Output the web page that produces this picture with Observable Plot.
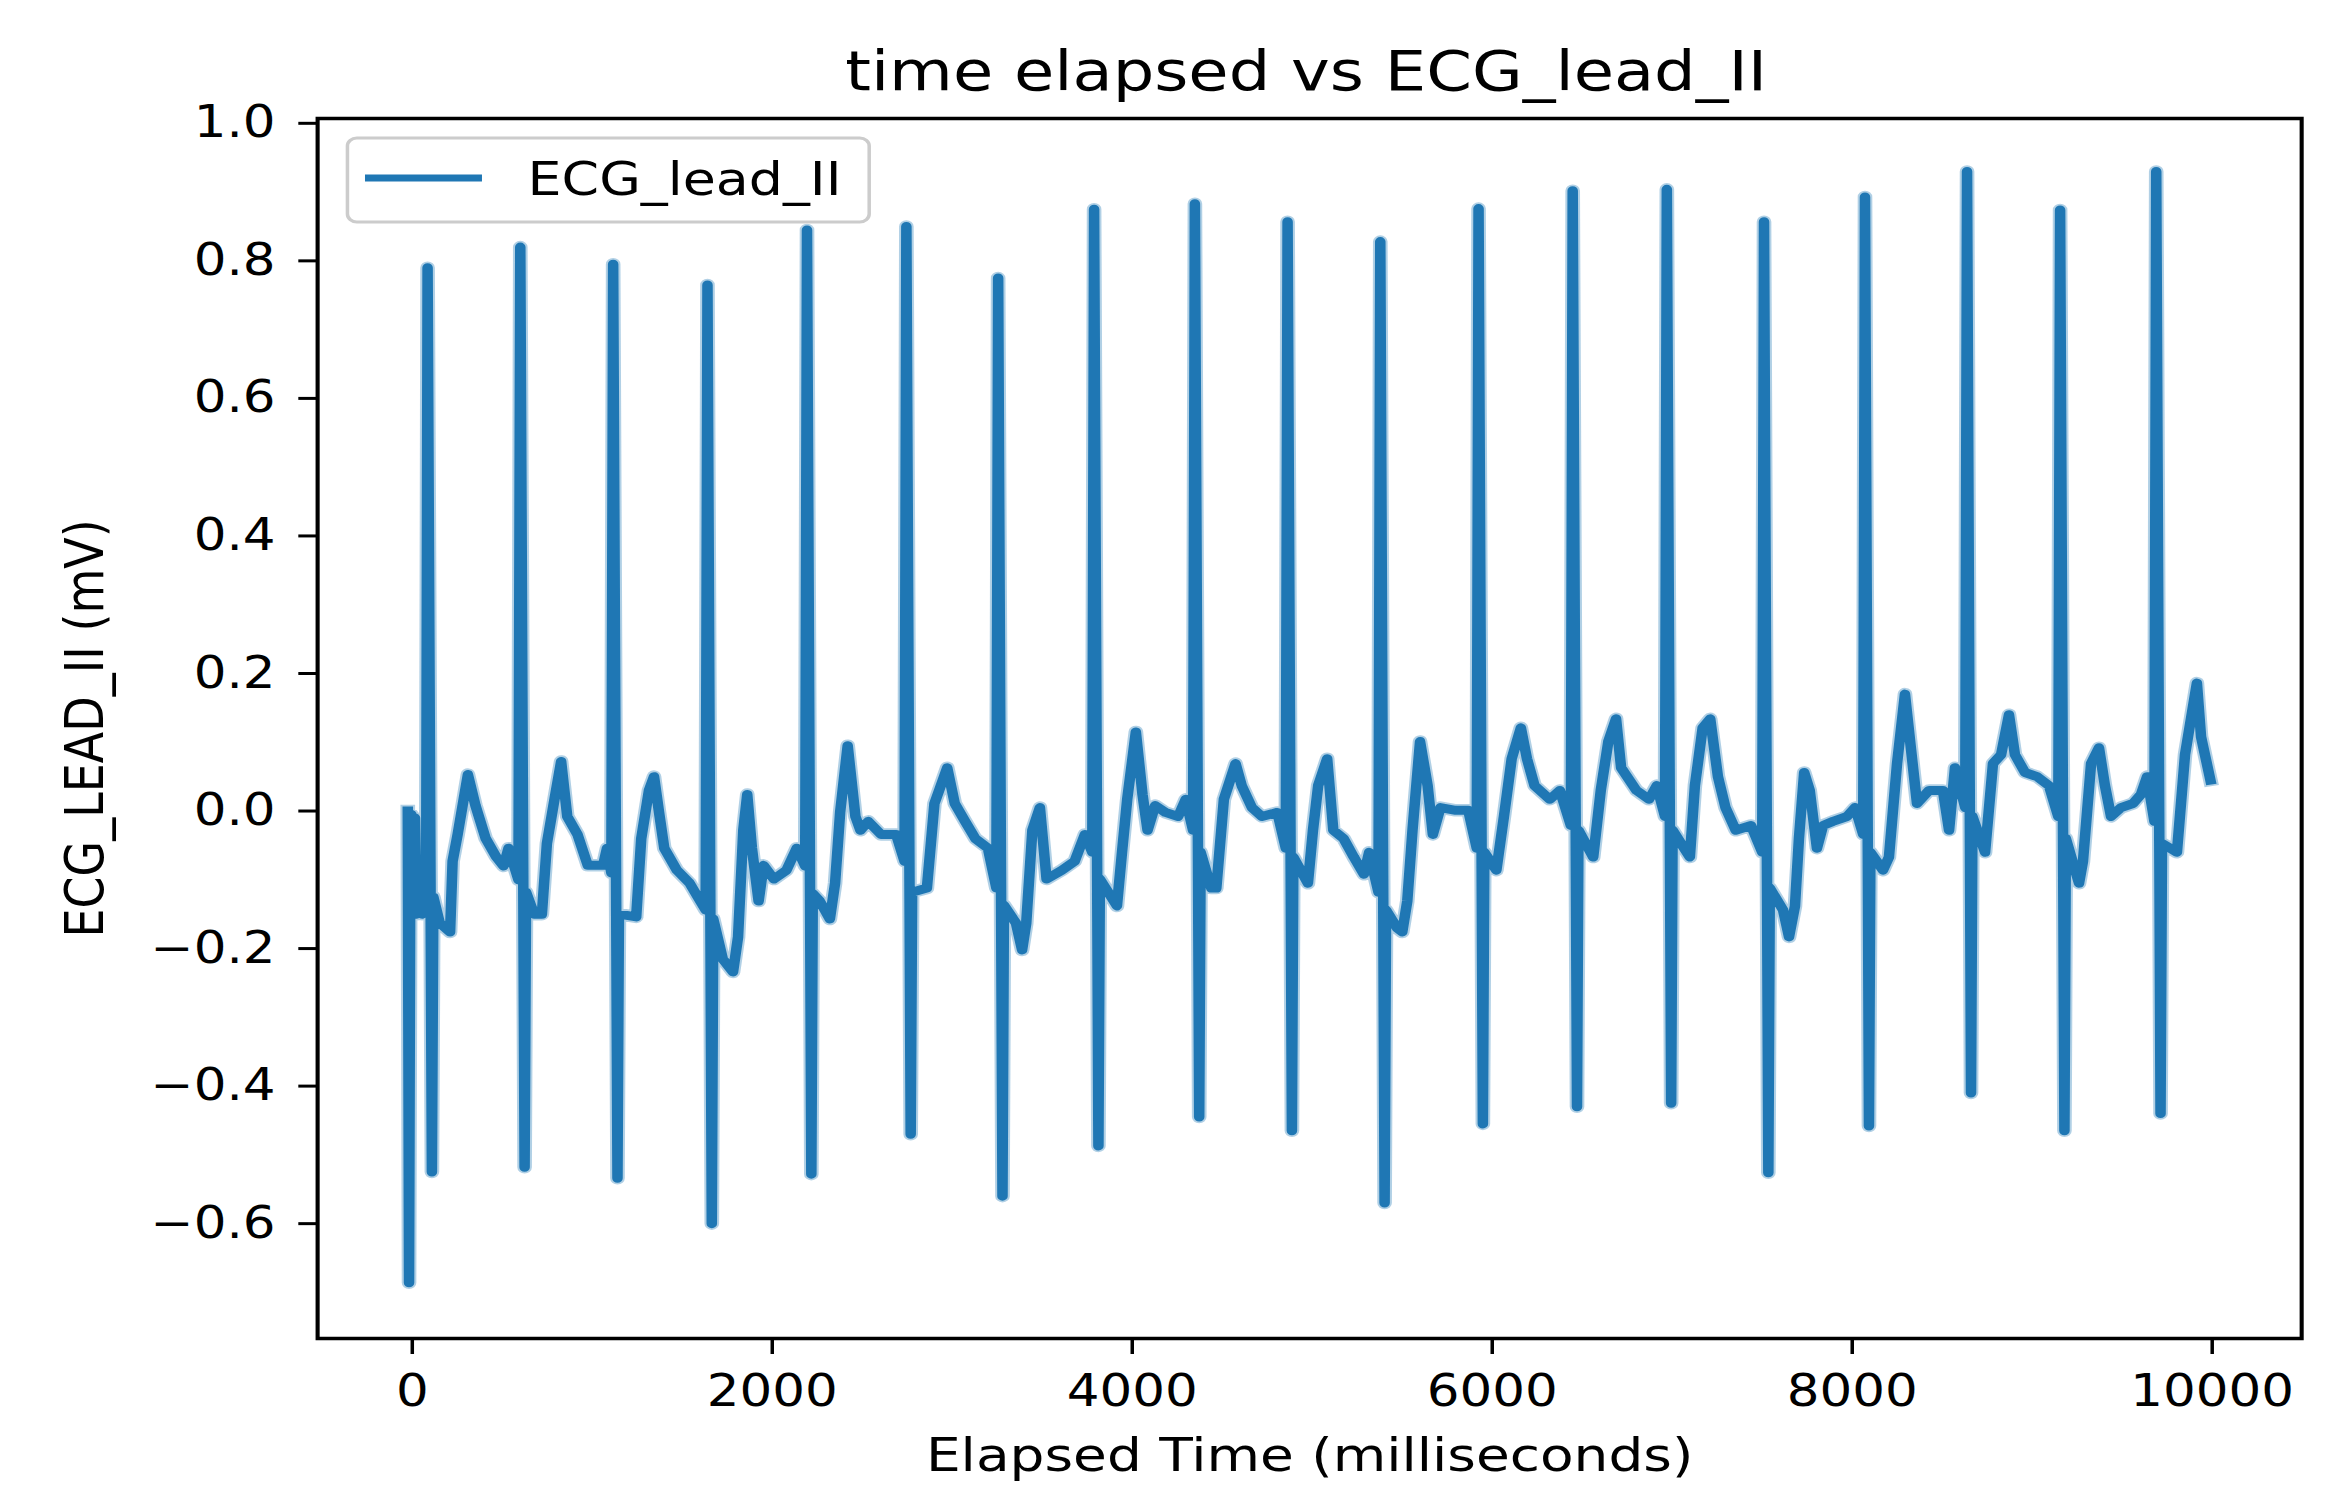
<!DOCTYPE html>
<html><head><meta charset="utf-8">
<script src="https://cdn.jsdelivr.net/npm/d3@7"></script>
<script src="https://cdn.jsdelivr.net/npm/@observablehq/plot@0.6"></script>
<style>
html,body{margin:0;padding:0;background:#fff;}
#chart svg{display:block;}
</style></head><body><div id="chart"></div>
<script>
const title = "time elapsed vs ECG_lead_II";
const xLabel = "Elapsed Time (milliseconds)";
const yLabel = "ECG_LEAD_II (mV)";
const seriesName = "ECG_lead_II";
const xTicks = [0, 2000, 4000, 6000, 8000, 10000];
const yTicks = [-0.6, -0.4, -0.2, 0, 0.2, 0.4, 0.6, 0.8, 1.0];

const elapsedMs = [
  -25, -18, -12, -5, 5, 15, 25, 40, 55, 77,
  85, 109, 117, 153, 210, 224, 252, 309, 351, 408, 465, 507, 535, 590,
  600, 624, 632, 677, 720, 748, 790, 827, 861, 918, 975, 1060, 1082, 1106,
  1116, 1140, 1148, 1244, 1272, 1315, 1343, 1371, 1400, 1470, 1541, 1598, 1630,
  1640, 1664, 1672, 1725, 1782, 1810, 1839, 1861, 1887, 1924, 1952, 2009, 2079, 2136, 2183,
  2193, 2217, 2225, 2264, 2320, 2349, 2377, 2419, 2462, 2490, 2533, 2604, 2688, 2735,
  2745, 2769, 2777, 2859, 2901, 2972, 3014, 3071, 3128, 3198, 3245,
  3255, 3279, 3287, 3354, 3388, 3411, 3445, 3487, 3524, 3609, 3680, 3737, 3778,
  3788, 3812, 3820, 3915, 3943, 3972, 4020, 4057, 4085, 4127, 4184, 4255, 4297, 4338,
  4348, 4372, 4380, 4439, 4467, 4509, 4574, 4608, 4665, 4721, 4806, 4853,
  4863, 4887, 4895, 4976, 5004, 5033, 5083, 5117, 5174, 5231, 5287, 5316, 5368,
  5378, 5402, 5410, 5471, 5500, 5528, 5557, 5599, 5641, 5670, 5712, 5797, 5867, 5914,
  5924, 5948, 5956, 6023, 6065, 6108, 6159, 6193, 6235, 6320, 6376, 6437,
  6447, 6471, 6479, 6561, 6603, 6645, 6688, 6716, 6801, 6871, 6914, 6960,
  6970, 6994, 7002, 7098, 7126, 7169, 7211, 7254, 7296, 7353, 7438, 7500,
  7510, 7534, 7542, 7616, 7649, 7682, 7704, 7733, 7764, 7804, 7838, 7893, 7971, 8016, 8061,
  8071, 8093, 8101, 8171, 8204, 8249, 8293, 8327, 8360, 8427, 8504, 8538, 8571, 8628,
  8638, 8660, 8668, 8738, 8782, 8827, 8871, 8904, 8960, 9027, 9093, 9145,
  9155, 9179, 9187, 9260, 9282, 9327, 9371, 9404, 9438, 9493, 9560, 9604, 9638, 9679,
  9689, 9713, 9721, 9804, 9849, 9915, 9938, 9990
];
const ecgLeadII = [
  0.0, -0.686, -0.15, -0.005, -0.15, -0.01, -0.15, -0.14, -0.15, -0.12,
  0.79, -0.525, -0.125, -0.163, -0.176, -0.073, -0.034, 0.053, 0.008, -0.04, -0.066, -0.08, -0.054, -0.1,
  0.82, -0.518, -0.118, -0.15, -0.15, -0.047, 0.017, 0.072, -0.008, -0.034, -0.079, -0.079, -0.054, -0.09,
  0.795, -0.534, -0.15, -0.154, -0.04, 0.03, 0.05, -0.002, -0.054, -0.086, -0.105, -0.13, -0.144,
  0.765, -0.6, -0.157, -0.215, -0.234, -0.183, -0.028, 0.024, -0.054, -0.131, -0.079, -0.099, -0.086, -0.054, -0.08,
  0.845, -0.528, -0.12, -0.131, -0.157, -0.105, -0.002, 0.095, -0.008, -0.028, -0.015, -0.034, -0.034, -0.073,
  0.85, -0.47, -0.118, -0.112, 0.011, 0.063, 0.011, -0.015, -0.04, -0.054, -0.112,
  0.775, -0.56, -0.137, -0.163, -0.202, -0.163, -0.028, 0.005, -0.099, -0.086, -0.073, -0.034, -0.06,
  0.875, -0.487, -0.099, -0.138, -0.06, 0.017, 0.115, 0.024, -0.028, 0.008, -0.002, -0.008, 0.017, -0.028,
  0.883, -0.445, -0.06, -0.112, -0.112, 0.017, 0.069, 0.037, 0.005, -0.008, -0.002, -0.054,
  0.857, -0.465, -0.067, -0.105, -0.028, 0.037, 0.076, -0.028, -0.04, -0.067, -0.092, -0.06, -0.118,
  0.828, -0.57, -0.144, -0.17, -0.176, -0.131, -0.028, 0.101, 0.037, -0.034, 0.005, 0.001, 0.001, -0.054,
  0.876, -0.455, -0.06, -0.086, -0.008, 0.076, 0.121, 0.076, 0.037, 0.017, 0.03, -0.021,
  0.902, -0.43, -0.028, -0.067, 0.03, 0.101, 0.134, 0.063, 0.03, 0.017, 0.037, -0.008,
  0.904, -0.425, -0.028, -0.067, 0.037, 0.121, 0.134, 0.05, 0.005, -0.028, -0.021, -0.06,
  0.857, -0.526, -0.112, -0.144, -0.183, -0.138, -0.04, 0.056, 0.03, -0.054, -0.021, -0.015, -0.008, 0.005, -0.034,
  0.893, -0.458, -0.06, -0.086, -0.067, 0.069, 0.17, 0.089, 0.011, 0.03, 0.03, -0.028, 0.063, 0.005,
  0.93, -0.41, -0.008, -0.06, 0.069, 0.082, 0.14, 0.082, 0.056, 0.05, 0.037, -0.008,
  0.874, -0.465, -0.04, -0.105, -0.073, 0.069, 0.092, 0.037, -0.008, 0.005, 0.011, 0.024, 0.05, -0.015,
  0.93, -0.44, -0.047, -0.06, 0.082, 0.186, 0.108, 0.045
];

const W = 2335, H = 1501;
const stretch = 1.17;
const w0 = Math.round(W / stretch);
const frameRight = 1967;

const data = elapsedMs.map((t, i) => ({t, v: ecgLeadII[i]}));

const plot = Plot.plot({
  width: w0, height: H,
  marginLeft: 271, marginRight: w0 - frameRight, marginTop: 118, marginBottom: 163,
  style: {fontFamily: "'DejaVu Sans', sans-serif", fontSize: "44px", color: "#000", background: "#fff", overflow: "visible"},
  x: {domain: [-526, 10497], label: null},
  y: {domain: [-0.767, 1.007], label: null},
  marks: [
    Plot.axisX({ticks: xTicks, tickFormat: d3.format("d"), tickSize: 16, tickPadding: 20, fontSize: 44, strokeWidth: 3, label: null}),
    Plot.axisY({ticks: yTicks, tickFormat: d3.format(".1f"), tickSize: 16, tickPadding: 20, fontSize: 44, strokeWidth: 3, label: null}),
    Plot.lineY(data, {x: "t", y: "v", stroke: "#1f77b4", strokeWidth: 12.5, strokeOpacity: 0.35, strokeLinejoin: "round", strokeLinecap: "square"}),
    Plot.lineY(data, {x: "t", y: "v", stroke: "#1f77b4", strokeWidth: 9, strokeLinejoin: "round", strokeLinecap: "square"}),
    Plot.frame({stroke: "#000", strokeWidth: 3.5}),
    Plot.text([title], {frameAnchor: "top", lineAnchor: "middle", text: d => d, dy: -46, dx: -3, fontSize: 56}),
    Plot.text([xLabel], {frameAnchor: "bottom", lineAnchor: "middle", text: d => d, dy: 117, fontSize: 47}),
    Plot.text([yLabel], {frameAnchor: "left", lineAnchor: "middle", textAnchor: "middle", text: d => d, rotate: -90, dx: 73 - 271, fontSize: 46})
  ]
});

const svg = d3.select(plot);
const lg = svg.append("g").attr("class", "legend");
lg.append("rect").attr("x", 297).attr("y", 138).attr("width", 446).attr("height", 84)
  .attr("rx", 8).attr("fill", "#fff").attr("fill-opacity", 0.8)
  .attr("stroke", "#cccccc").attr("stroke-width", 3);
lg.append("line").attr("x1", 312).attr("x2", 412).attr("y1", 178).attr("y2", 178)
  .attr("stroke", "#1f77b4").attr("stroke-width", 7);
lg.append("text").attr("x", 451).attr("y", 195).attr("font-size", 46)
  .attr("text-anchor", "start").attr("fill", "#000").text(seriesName);

plot.setAttribute("width", W);
plot.setAttribute("height", H);
plot.setAttribute("preserveAspectRatio", "none");
plot.style.width = W + "px";
plot.style.height = H + "px";
plot.style.maxWidth = "none";

document.getElementById("chart").appendChild(plot);
</script>
</body></html>
